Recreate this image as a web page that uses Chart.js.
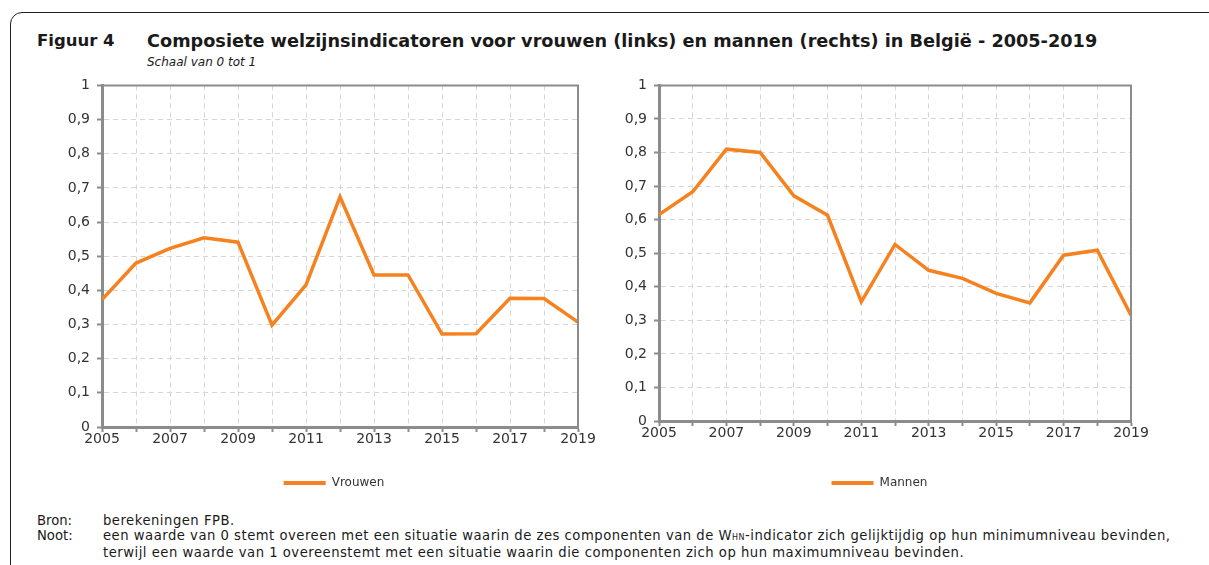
<!DOCTYPE html>
<html>
<head>
<meta charset="utf-8">
<script src="https://cdn.jsdelivr.net/npm/chart.js@4.4.1/dist/chart.umd.min.js"></script>
<style>
  body { margin: 0; background: #fff; width: 1209px; height: 565px; overflow: hidden; position: relative; font-family: "DejaVu Sans", sans-serif; color: #1a1a1a; }
  .frame { position: absolute; left: 10px; top: 12px; width: 1260px; height: 620px; border: 1.5px solid #222; border-top-left-radius: 12px; }
  .fig { position: absolute; left: 37px; top: 31px; font-weight: bold; font-size: 16.5px; }
  .title { position: absolute; left: 147px; top: 31px; font-weight: bold; font-size: 17.7px; white-space: nowrap; }
  .sub { position: absolute; left: 147px; top: 55px; font-style: italic; font-size: 12px; }
  .wrap { position: absolute; }
  .notes { position: absolute; left: 37px; top: 513px; font-size: 13.2px; line-height: 15px; letter-spacing: 0.5px; }
  .notes td { padding: 0; vertical-align: top; white-space: nowrap; }
  .notes td.k { width: 66px; letter-spacing: 0; }
</style>
</head>
<body>
<div class="frame"></div>
<div class="fig">Figuur 4</div>
<div class="title">Composiete welzijnsindicatoren voor vrouwen (links) en mannen (rechts) in België - 2005-2019</div>
<div class="sub">Schaal van 0 tot 1</div>

<div class="wrap" style="left:30px; top:70px; width:570px; height:429px;"><canvas id="chartLeft"></canvas></div>
<div class="wrap" style="left:588px; top:70px; width:580px; height:429px;"><canvas id="chartRight"></canvas></div>

<table class="notes" cellspacing="0">
  <tr><td class="k">Bron:</td><td>berekeningen FPB.</td></tr>
  <tr><td class="k">Noot:</td><td>een waarde van 0 stemt overeen met een situatie waarin de zes componenten van de W<span style="font-size:8px">HN</span>-indicator zich gelijktijdig op hun minimumniveau bevinden,</td></tr>
  <tr><td></td><td>terwijl een waarde van 1 overeenstemt met een situatie waarin die componenten zich op hun maximumniveau bevinden.</td></tr>
</table>

<script>
const years = ['2005', '2006', '2007', '2008', '2009', '2010', '2011', '2012', '2013', '2014', '2015', '2016', '2017', '2018', '2019'];
const vrouwen = [0.373, 0.480, 0.523, 0.554, 0.541, 0.298, 0.416, 0.674, 0.445, 0.445, 0.272, 0.273, 0.377, 0.376, 0.307];
const mannen = [0.615, 0.683, 0.810, 0.800, 0.671, 0.613, 0.355, 0.526, 0.449, 0.425, 0.380, 0.352, 0.494, 0.509, 0.315];

const orange = '#F5821F';
const axisGrey = '#8c8c8c';
const gridGrey = '#d6d6d6';
const font = { family: 'DejaVu Sans', size: 14 };

// full box around the plot area
const plotBox = {
    id: 'plotBox',
    afterDraw(chart) {
        const a = chart.chartArea;
        const c = chart.ctx;
        c.save();
        c.strokeStyle = axisGrey;
        c.lineWidth = 2;
        c.beginPath();
        c.moveTo(a.left, a.top);
        c.lineTo(a.right, a.top);
        c.lineTo(a.right, a.bottom);
        c.stroke();
        c.restore();
    }
};

// the legend in the original is centred a bit further right than chart.js puts it
const legendShift = {
    id: 'legendShift',
    afterLayout(chart, args, opts) {
        chart.legend.left += opts.dx;
        chart.legend.right += opts.dx;
    }
};

function makeChart(id, label, values, yWidth, xHeight, padRight, legendDx) {
    return new Chart(document.getElementById(id), {
        type: 'line',
        data: {
            labels: years,
            datasets: [{
                label: label,
                data: values,
                borderColor: orange,
                backgroundColor: orange,
                borderWidth: 3.5,
                pointRadius: 0,
                tension: 0
            }]
        },
        options: {
            responsive: true,
            maintainAspectRatio: false,
            animation: false,
            layout: { padding: { top: 14, right: padRight, left: 0, bottom: 0 } },
            plugins: {
                tooltip: { enabled: false },
                legendShift: { dx: legendDx },
                legend: {
                    position: 'bottom',
                    labels: {
                        color: '#333',
                        font: { family: 'DejaVu Sans', size: 12 },
                        boxWidth: 42,
                        boxHeight: 4,
                        padding: 10,
                        generateLabels(chart) {
                            return Chart.defaults.plugins.legend.labels.generateLabels(chart).map(l => {
                                l.lineWidth = 0;
                                return l;
                            });
                        }
                    }
                }
            },
            scales: {
                x: {
                    offset: false,
                    grid: { color: gridGrey, tickColor: axisGrey, tickLength: 5, tickWidth: 2 },
                    border: { display: true, color: axisGrey, width: 3, dash: [5, 4] },
                    ticks: {
                        color: '#333',
                        font: font,
                        autoSkip: false,
                        maxRotation: 0,
                        padding: -1,
                        callback: (v, i) => (i % 2 === 0 ? years[i] : '')
                    },
                    afterFit(scale) { scale.height = xHeight; }
                },
                y: {
                    min: 0,
                    max: 1,
                    grid: { color: gridGrey, tickColor: axisGrey, tickLength: 5, tickWidth: 2 },
                    border: { display: true, color: axisGrey, width: 3, dash: [5, 4] },
                    ticks: {
                        stepSize: 0.1,
                        color: '#333',
                        font: font,
                        padding: 7,
                        callback: v => (v === 0 || v === 1 ? String(v) : v.toFixed(1).replace('.', ','))
                    },
                    afterFit(scale) { scale.width = yWidth; }
                }
            }
        },
        plugins: [plotBox, legendShift]
    });
}

makeChart('chartLeft', 'Vrouwen', vrouwen, 72, 40, 22, 30);
makeChart('chartRight', 'Mannen', mannen, 71, 46, 37, 20);
</script>
</body>
</html>
